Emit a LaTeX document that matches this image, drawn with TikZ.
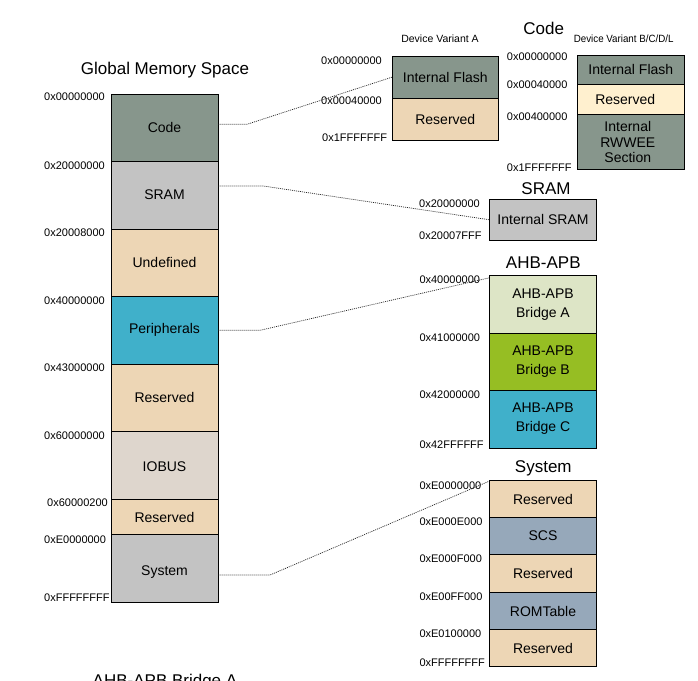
\documentclass[tikz,border=0pt]{standalone}
\usepackage{fontspec}
\setmainfont{Liberation Sans}
\usepackage{graphicx}
\definecolor{codec}{RGB}{135,150,140}
\definecolor{resc}{RGB}{237,214,181}
\definecolor{resl}{RGB}{255,240,207}
\definecolor{sramc}{RGB}{195,195,195}
\definecolor{iobc}{RGB}{222,214,205}
\definecolor{perc}{RGB}{64,176,202}
\definecolor{brac}{RGB}{221,229,198}
\definecolor{brbc}{RGB}{150,190,35}
\definecolor{scsc}{RGB}{150,168,186}
\newcommand{\dropby}[2]{\raisebox{-#1}[\height][\depth]{#2}}
\begin{document}
\begin{tikzpicture}[x=1pt,y=-1pt,
 membox/.style={draw=black, line width=0.8pt, inner sep=0pt, minimum width=107pt, font=\fontsize{14}{16}\selectfont, align=center},
 addr/.style={anchor=west, inner sep=0pt, font=\fontsize{11}{13}\selectfont, text height=8pt, text depth=0pt},
 ttl/.style={inner sep=0pt, font=\fontsize{17}{20}\selectfont, text height=12.2pt, text depth=0pt},
 varl/.style={inner sep=0pt, font=\fontsize{10.5}{12}\selectfont, text height=7.6pt, text depth=0pt},
 link/.style={draw=black!85, line width=0.7pt, dash pattern=on 1pt off 1pt}]
\useasboundingbox[fill=white] (0,0) rectangle (698,680);

% ---- Global memory space ----
\node[ttl] (tglobal) at (165,68.3) {Global Memory Space};
\node[membox, fill=codec, minimum height=67pt] (gcode) at (164.5,127.5) {Code};
\node[membox, fill=sramc, minimum height=68pt] (gsram) at (164.5,195) {SRAM};
\node[membox, fill=resc, minimum height=67pt] (gundef) at (164.5,262.5) {Undefined};
\node[membox, fill=perc, minimum height=68pt] (gper) at (164.5,330) {Peripherals};
\node[membox, fill=resc, minimum height=67pt] (gres1) at (164.5,397.5) {Reserved};
\node[membox, fill=iobc, minimum height=68pt] (giobus) at (164.5,465) {\dropby{1.5pt}{IOBUS}};
\node[membox, fill=resc, minimum height=35pt] (gres2) at (164.5,516.5) {\dropby{1pt}{Reserved}};
\node[membox, fill=sramc, minimum height=68pt] (gsys) at (164.5,568) {\dropby{4pt}{System}};

\node[addr] (la1) at (44,96.7) {0x00000000};
\node[addr] (la2) at (44,165) {0x20000000};
\node[addr] (la3) at (44,232.7) {0x20008000};
\node[addr] (la4) at (44,300.7) {0x40000000};
\node[addr] (la5) at (44,367.7) {0x43000000};
\node[addr] (la6) at (44,435.7) {0x60000000};
\node[addr] (la7) at (47,502.3) {0x60000200};
\node[addr] (la8) at (44,539.3) {0xE0000000};
\node[addr] (la9) at (44,597.3) {0xFFFFFFFF};

\node[ttl, anchor=base] (tnext) at (165,686) {AHB-APB Bridge A};

% ---- Code ----
\node[ttl] (tcode) at (543.7,28.3) {Code};
\node[varl] (tvarA) at (440,38.3) {Device Variant A};
\node[varl] (tvarB) at (623.7,38.3) {\scalebox{0.93}[1]{Device Variant B/C/D/L}};
\node[membox, fill=codec, minimum width=106pt, minimum height=42.3pt] (flashA) at (445.3,77.2) {Internal Flash};
\node[membox, fill=resc, minimum width=106pt, minimum height=42.4pt] (resA) at (445.3,119.5) {Reserved};
\node[addr] (lb1) at (321,60.7) {0x00000000};
\node[addr] (lb2) at (321,100.7) {0x00040000};
\node[addr] (lb3) at (322,137.3) {0x1FFFFFFF};

\node[membox, fill=codec, minimum height=29pt] (flashB) at (630.8,69.5) {Internal Flash};
\node[membox, fill=resl, minimum height=30.3pt, text width=95pt, align=left] (resB) at (630.8,99.2) {\hspace*{12pt}Reserved};
\node[membox, fill=codec, minimum height=55pt, font=\fontsize{14}{16.5}\selectfont] (rwwB) at (630.8,141.8) {\dropby{2pt}{\begin{tabular}{@{}c@{}}Internal\\[-1pt]RWWEE\\[-1.5pt]Section\end{tabular}}\hspace*{6pt}};
\node[addr] (lc1) at (506.7,56.7) {0x00000000};
\node[addr] (lc2) at (506.7,84) {0x00040000};
\node[addr] (lc3) at (506.7,116.7) {0x00400000};
\node[addr] (lc4) at (506.7,167.3) {0x1FFFFFFF};

% ---- SRAM ----
\node[ttl] (tsram) at (546,188.3) {SRAM};
\node[membox, fill=sramc, minimum width=107.4pt, minimum height=40.7pt] (isram) at (543,219.7) {Internal SRAM};
\node[addr] (ld1) at (419,203.3) {0x20000000};
\node[addr] (ld2) at (419,235.7) {0x20007FFF};

% ---- AHB-APB ----
\node[ttl] (tahb) at (543.3,262.7) {AHB-APB};
\node[membox, fill=brac, minimum width=107.4pt, minimum height=58pt, font=\fontsize{14}{19}\selectfont] (bra) at (543,304.3) {AHB-APB\\Bridge A};
\node[membox, fill=brbc, minimum width=107.4pt, minimum height=56.7pt, font=\fontsize{14}{19}\selectfont] (brb) at (543,361.7) {AHB-APB\\Bridge B};
\node[membox, fill=perc, minimum width=107.4pt, minimum height=58pt, font=\fontsize{14}{19}\selectfont] (brc) at (543,419) {AHB-APB\\Bridge C};
\node[addr] (le1) at (419.3,279.3) {0x40000000};
\node[addr] (le2) at (419.3,337.3) {0x41000000};
\node[addr] (le3) at (419.3,394.3) {0x42000000};
\node[addr] (le4) at (419.3,444) {0x42FFFFFF};

% ---- System ----
\node[ttl] (tsys) at (543.3,466) {System};
\node[membox, fill=resc, minimum width=107.4pt, minimum height=37pt] (sres1) at (543,499.2) {Reserved};
\node[membox, fill=scsc, minimum width=107.4pt, minimum height=36.6pt] (sscs) at (543,536) {SCS};
\node[membox, fill=resc, minimum width=107.4pt, minimum height=38.4pt] (sres2) at (543,573.5) {Reserved};
\node[membox, fill=scsc, minimum width=107.4pt, minimum height=36.6pt] (srom) at (543,611) {ROMTable};
\node[membox, fill=resc, minimum width=107.4pt, minimum height=37.4pt] (sres3) at (543,648) {Reserved};
\node[addr] (lf1) at (419.3,485) {0xE0000000};
\node[addr] (lf2) at (419.3,521.7) {0xE000E000};
\node[addr] (lf3) at (419.3,558.3) {0xE000F000};
\node[addr] (lf4) at (419.3,596.7) {0xE00FF000};
\node[addr] (lf5) at (419.3,633.3) {0xE0100000};
\node[addr] (lf6) at (419.3,662.7) {0xFFFFFFFF};

% ---- connectors ----
\coordinate (k1) at (247,124.3);
\coordinate (k2) at (263.3,186);
\coordinate (k3) at (260,330.3);
\coordinate (k4) at (270,575);
\draw[link] (gcode.east |- k1) -- (k1) -- (flashA.west);
\draw[link] (gsram.east |- k2) -- (k2) -- (isram.west);
\draw[link] (gper.east |- k3) -- (k3) -- ([yshift=-3pt]bra.north west);
\draw[link] (gsys.east |- k4) -- (k4) -- ([yshift=-1pt]sres1.north west);
\end{tikzpicture}
\end{document}
